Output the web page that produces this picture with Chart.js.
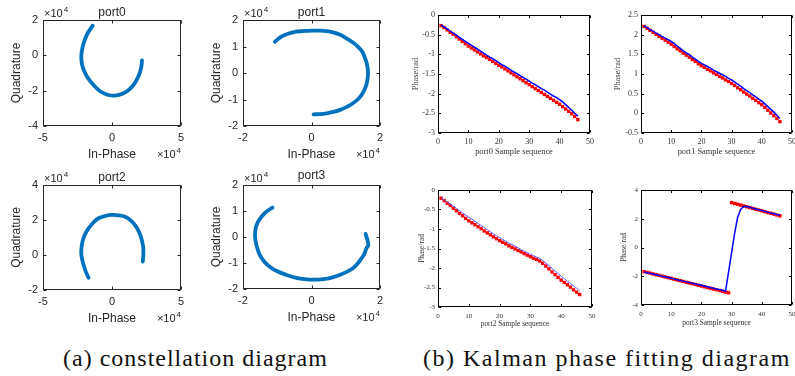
<!DOCTYPE html>
<html>
<head>
<meta charset="utf-8">
<script src="https://cdn.jsdelivr.net/npm/chart.js@4.4.1/dist/chart.umd.min.js"></script>
<style>
html,body{margin:0;padding:0;background:#fff;}
#fig{position:relative;width:795px;height:376px;overflow:hidden;background:#fff;}
#fig canvas{position:absolute;}
.cap{position:absolute;top:344px;font-family:'Liberation Serif','DejaVu Serif',serif;font-size:24px;line-height:28px;color:#111;white-space:nowrap;}
</style>
</head>
<body>
<div id="fig">
  <canvas id="c0"></canvas>
  <canvas id="c1"></canvas>
  <canvas id="c2"></canvas>
  <canvas id="c3"></canvas>
  <canvas id="f0"></canvas>
  <canvas id="f1"></canvas>
  <canvas id="f2"></canvas>
  <canvas id="f3"></canvas>
  <div class="cap" id="capA" style="left:63px;letter-spacing:1.0px;">(a) constellation diagram</div>
  <div class="cap" id="capB" style="left:423px;letter-spacing:1.5px;">(b) Kalman phase fitting diagram</div>
</div>
<script>
// ---------------- DATA (constellation values in units of 10^4) ----------------
const port0InPhase    = [-1.40,-1.58,-1.76,-1.92,-2.05,-2.15,-2.21,-2.22,-2.17,-2.06,-1.90,-1.70,-1.45,-1.17,-0.86,-0.52,-0.18,0.17,0.50,0.83,1.13,1.42,1.67,1.88,2.04,2.14,2.17];
const port0Quadrature = [1.68,1.48,1.25,0.98,0.70,0.40,0.10,-0.22,-0.52,-0.80,-1.08,-1.33,-1.58,-1.82,-2.03,-2.17,-2.26,-2.28,-2.24,-2.15,-2.01,-1.80,-1.55,-1.25,-0.92,-0.58,-0.28];

const port1InPhase    = [-1.07,-0.88,-0.64,-0.45,-0.25,0.00,0.24,0.45,0.63,0.84,1.02,1.20,1.36,1.48,1.55,1.62,1.65,1.64,1.60,1.54,1.46,1.35,1.21,1.03,0.82,0.63,0.44,0.25,0.06];
const port1Quadrature = [1.18,1.37,1.50,1.56,1.58,1.60,1.60,1.58,1.53,1.44,1.31,1.16,0.99,0.81,0.61,0.33,0.05,-0.20,-0.45,-0.65,-0.83,-1.00,-1.14,-1.28,-1.40,-1.47,-1.52,-1.55,-1.56];

const port2InPhase    = [-1.70,-1.90,-2.06,-2.17,-2.23,-2.20,-2.11,-1.94,-1.70,-1.38,-0.98,-0.50,-0.01,0.48,0.95,1.35,1.67,1.92,2.09,2.20,2.27,2.27,2.23];
const port2Quadrature = [-1.30,-0.95,-0.57,-0.22,0.10,0.48,0.86,1.21,1.52,1.83,2.10,2.23,2.29,2.27,2.19,1.98,1.71,1.38,1.05,0.72,0.38,0.00,-0.38];

const port3InPhase    = [-1.14,-1.32,-1.46,-1.57,-1.63,-1.65,-1.63,-1.58,-1.51,-1.39,-1.22,-1.00,-0.73,-0.47,-0.20,0.07,0.34,0.59,0.82,1.03,1.21,1.35,1.46,1.55,1.60,1.66,1.58];
const port3Quadrature = [1.13,0.97,0.78,0.56,0.33,0.08,-0.18,-0.44,-0.69,-0.93,-1.14,-1.32,-1.46,-1.56,-1.62,-1.64,-1.62,-1.56,-1.46,-1.34,-1.20,-1.02,-0.82,-0.63,-0.44,-0.30,0.12];

// ---------------- DATA (phase, rad) ----------------
const sampleSeq = [1,2,3,4,5,6,7,8,9,10,11,12,13,14,15,16,17,18,19,20,21,22,23,24,25,26,27,28,29,30,31,32,33,34,35,36,37,38,39,40,41,42,43,44,45,46];

const port0Measured = [-0.27,-0.32,-0.38,-0.44,-0.49,-0.55,-0.61,-0.67,-0.73,-0.79,-0.84,-0.89,-0.94,-0.99,-1.04,-1.08,-1.13,-1.18,-1.23,-1.28,-1.32,-1.37,-1.42,-1.47,-1.52,-1.57,-1.62,-1.67,-1.72,-1.77,-1.82,-1.87,-1.92,-1.97,-2.02,-2.07,-2.12,-2.17,-2.22,-2.27,-2.33,-2.39,-2.45,-2.51,-2.58,-2.66];
const port0Kalman   = [-0.25,-0.30,-0.35,-0.41,-0.46,-0.51,-0.57,-0.62,-0.67,-0.72,-0.77,-0.82,-0.87,-0.92,-0.97,-1.02,-1.07,-1.11,-1.16,-1.21,-1.26,-1.30,-1.35,-1.40,-1.45,-1.49,-1.54,-1.59,-1.63,-1.68,-1.73,-1.77,-1.82,-1.87,-1.91,-1.96,-2.01,-2.06,-2.10,-2.15,-2.21,-2.28,-2.35,-2.42,-2.50,-2.57];

const port1Measured = [2.21,2.16,2.11,2.06,2.01,1.96,1.91,1.86,1.81,1.76,1.70,1.64,1.59,1.53,1.48,1.43,1.37,1.32,1.26,1.21,1.17,1.12,1.08,1.03,0.99,0.94,0.90,0.85,0.81,0.76,0.71,0.65,0.60,0.54,0.49,0.44,0.38,0.33,0.27,0.22,0.15,0.08,0.01,-0.06,-0.13,-0.21];
const port1Kalman   = [2.22,2.18,2.13,2.09,2.04,2.00,1.95,1.91,1.87,1.83,1.77,1.71,1.65,1.59,1.54,1.49,1.43,1.38,1.32,1.27,1.23,1.19,1.15,1.10,1.06,1.02,0.98,0.94,0.89,0.85,0.80,0.74,0.69,0.63,0.58,0.53,0.47,0.42,0.36,0.31,0.24,0.17,0.10,0.03,-0.05,-0.13];

const port2Measured = [-0.21,-0.27,-0.34,-0.40,-0.47,-0.53,-0.60,-0.66,-0.73,-0.79,-0.84,-0.89,-0.94,-0.99,-1.05,-1.10,-1.15,-1.20,-1.25,-1.30,-1.34,-1.38,-1.43,-1.47,-1.51,-1.55,-1.59,-1.63,-1.67,-1.71,-1.75,-1.78,-1.82,-1.88,-1.95,-2.02,-2.10,-2.17,-2.24,-2.31,-2.37,-2.43,-2.49,-2.56,-2.62,-2.68];
const port2Kalman   = [-0.20,-0.25,-0.31,-0.36,-0.42,-0.47,-0.53,-0.59,-0.64,-0.70,-0.75,-0.80,-0.86,-0.91,-0.96,-1.02,-1.07,-1.12,-1.17,-1.22,-1.27,-1.31,-1.36,-1.40,-1.44,-1.48,-1.53,-1.57,-1.61,-1.65,-1.68,-1.72,-1.75,-1.81,-1.87,-1.94,-2.01,-2.08,-2.14,-2.21,-2.27,-2.34,-2.40,-2.46,-2.52,-2.59];

const port3Measured = [-1.68,-1.73,-1.78,-1.84,-1.89,-1.94,-1.99,-2.05,-2.10,-2.15,-2.21,-2.26,-2.31,-2.36,-2.42,-2.47,-2.52,-2.57,-2.63,-2.68,-2.73,-2.78,-2.84,-2.89,-2.94,-2.99,-3.05,-3.10,-3.15,3.12,3.06,3.01,2.95,2.89,2.84,2.78,2.72,2.66,2.61,2.55,2.49,2.43,2.38,2.32,2.26,2.20];
const port3Kalman   = [-1.70,-1.75,-1.80,-1.85,-1.90,-1.95,-2.00,-2.04,-2.09,-2.14,-2.19,-2.24,-2.29,-2.34,-2.39,-2.44,-2.48,-2.53,-2.58,-2.63,-2.68,-2.73,-2.78,-2.83,-2.88,-2.93,-2.98,-3.03,-1.69,-0.35,0.99,2.10,2.65,2.86,2.85,2.79,2.73,2.68,2.62,2.57,2.51,2.46,2.40,2.35,2.29,2.24];

// ---------------- TICK / LABEL TEXT ----------------
const portNames = ['port0','port1','port2','port3'];
const iqXLabel = 'In-Phase';
const iqYLabel = 'Quadrature';
const phaseYLabel = 'Phase/rad';
const phaseXLabelSuffix = ' Sample sequence';

// ---------------- helpers ----------------
const SANS = "'Liberation Sans', Arial, Helvetica, sans-serif";
const SERIF = "'Liberation Serif', 'Times New Roman', serif";

const framePlugin = {
  id: 'frame',
  afterDatasetsDraw(chart, args, o) {
    if (!o || !o.on) return;
    const {ctx, chartArea: a, scales} = chart;
    const xs = scales.x, ys = scales.y;
    ctx.save();
    ctx.strokeStyle = o.color;
    ctx.lineWidth = 1;
    const L = Math.round(a.left) + 0.5, R = Math.round(a.right) - 0.5;
    const T = Math.round(a.top) + 0.5, B = Math.round(a.bottom) - 0.5;
    ctx.strokeRect(L, T, R - L, B - T);
    const len = o.tick;
    ctx.beginPath();
    xs.ticks.forEach(t => {
      const p = Math.round(xs.getPixelForValue(t.value)) + 0.5;
      ctx.moveTo(p, B); ctx.lineTo(p, B - len);
      ctx.moveTo(p, T); ctx.lineTo(p, T + len);
    });
    ys.ticks.forEach(t => {
      const p = Math.round(ys.getPixelForValue(t.value)) + 0.5;
      ctx.moveTo(L, p); ctx.lineTo(L + len, p);
      ctx.moveTo(R, p); ctx.lineTo(R - len, p);
    });
    ctx.stroke();
    ctx.fillStyle = o.color;
    if (o.title) {
      ctx.font = '12px ' + SANS;
      ctx.textAlign = 'center'; ctx.textBaseline = 'middle';
      ctx.fillText(o.title, (a.left + a.right) / 2, a.top - o.titleOff);
    }
    if (o.exp) {
      const drawExp = (x, y, alignRight) => {
        ctx.font = '11px ' + SANS;
        const w1 = ctx.measureText('\u00d710').width;
        ctx.font = '8px ' + SANS;
        const w2 = ctx.measureText('4').width;
        const x0 = alignRight ? x - w1 - w2 - 1 : x;
        ctx.textAlign = 'left'; ctx.textBaseline = 'alphabetic';
        ctx.font = '11px ' + SANS; ctx.fillText('\u00d710', x0, y);
        ctx.font = '8px ' + SANS; ctx.fillText('4', x0 + w1 + 1, y - 5);
      };
      drawExp(a.left + 1, a.top - 3, false);
      drawExp(a.right, a.bottom + 32, true);
    }
    ctx.restore();
  }
};
Chart.register(framePlugin);

function place(id, plot, pad) {
  const c = document.getElementById(id);
  const W = plot.r - plot.l + pad.l + pad.r;
  const H = plot.b - plot.t + pad.t + pad.b;
  c.width = W; c.height = H;
  c.style.left = (plot.l - pad.l) + 'px';
  c.style.top = (plot.t - pad.t) + 'px';
  c.style.width = W + 'px'; c.style.height = H + 'px';
  return c;
}

function baseOptions(pad, xs, ys, frame) {
  return {
    responsive: false, animation: false, devicePixelRatio: 1,
    layout: {padding: {top: pad.t, right: pad.r, left: 0, bottom: 0}},
    plugins: {legend: {display: false}, tooltip: {enabled: false}, frame: frame},
    scales: {x: xs, y: ys}
  };
}

function fmtTick(v) { return String(Math.round(v * 100) / 100); }

function axis(min, max, step, title, tf, kf, color, tickPad, fitSize, horizontal) {
  return {
    type: 'linear', min, max,
    ticks: {stepSize: step, font: kf, color, padding: tickPad, maxRotation: 0, autoSkip: false, includeBounds: true, callback: fmtTick},
    grid: {display: false, drawTicks: false},
    border: {display: false},
    title: {display: true, text: title, font: tf, color, padding: {top: 0, bottom: 0}},
    afterFit(s) { if (horizontal) s.height = fitSize; else s.width = fitSize; }
  };
}

function pts(xa, ya) { return xa.map((v, i) => ({x: v, y: ya[i]})); }

function constellation(id, plot, I, Q, xr, yr, title, titleOff) {
  const pad = {l: 34, r: 15, t: 20, b: 36};
  const c = place(id, plot, pad);
  const col = '#262626';
  const tf = {family: SANS, size: 12};
  const kf = {family: SANS, size: 11};
  new Chart(c, {
    type: 'scatter',
    data: {datasets: [{
      data: pts(I, Q), showLine: true, tension: 0.35,
      borderColor: '#0072BD', borderWidth: 3.8, borderCapStyle: 'round', borderJoinStyle: 'round',
      pointRadius: 1.2, pointBackgroundColor: '#0072BD', pointBorderWidth: 0
    }]},
    options: baseOptions(pad,
      axis(xr[0], xr[1], xr[2], iqXLabel, tf, kf, col, 5.5, pad.b, true),
      axis(yr[0], yr[1], yr[2], iqYLabel, tf, kf, col, 5, pad.l, false),
      {on: true, color: col, tick: 3, title: title, titleOff: titleOff, exp: true})
  });
}

function phase(id, plot, pad, meas, kal, yr, name, fs, ks, tickPadX, blueW, blueCol) {
  const c = place(id, plot, pad);
  const col = '#333';
  const tf = {family: SERIF, size: fs};
  const kf = {family: SERIF, size: ks};
  new Chart(c, {
    type: 'scatter',
    data: {datasets: [
      {data: pts(sampleSeq, kal), showLine: true, tension: 0, borderColor: blueCol, borderWidth: blueW, pointRadius: 0, order: 0},
      {data: pts(sampleSeq, meas), showLine: false, pointStyle: 'rect', pointRadius: 2.4, pointBackgroundColor: '#ff0000', pointBorderWidth: 0, order: 1}
    ]},
    options: baseOptions(pad,
      axis(0, 50, 10, name + phaseXLabelSuffix, tf, kf, col, tickPadX, pad.b, true),
      axis(yr[0], yr[1], yr[2], phaseYLabel, tf, kf, col, 3, pad.l, false),
      {on: true, color: '#000', tick: 2.5, title: null, exp: false})
  });
}

constellation('c0', {l: 43, t: 20, r: 181, b: 126}, port0InPhase, port0Quadrature, [-5, 5, 5], [-4, 2, 2], portNames[0], 7.5);
constellation('c1', {l: 243, t: 20, r: 380, b: 126}, port1InPhase, port1Quadrature, [-2, 2, 2], [-2, 2, 1], portNames[1], 7.5);
constellation('c2', {l: 43, t: 185, r: 181, b: 290}, port2InPhase, port2Quadrature, [-5, 5, 5], [-2, 4, 2], portNames[2], 7.5);
constellation('c3', {l: 243, t: 185, r: 380, b: 289}, port3InPhase, port3Quadrature, [-2, 2, 2], [-2, 2, 1], portNames[3], 9);

phase('f0', {l: 438, t: 15, r: 590, b: 133}, {l: 27, r: 15, t: 10, b: 24}, port0Measured, port0Kalman, [-3, 0, 0.5], portNames[0], 8.4, 8, 4, 1.5, '#0000ff');
phase('f1', {l: 641, t: 15, r: 792, b: 133}, {l: 28, r: 15, t: 10, b: 24}, port1Measured, port1Kalman, [-0.5, 2.5, 0.5], portNames[1], 8.4, 8, 4, 1.5, '#0000ff');
phase('f2', {l: 438, t: 190, r: 592, b: 307}, {l: 20, r: 15, t: 10, b: 22}, port2Measured, port2Kalman, [-3, 0, 0.5], portNames[2], 7.4, 7, 4.5, 1, '#5a5aff');
phase('f3', {l: 641, t: 190, r: 792, b: 305}, {l: 21, r: 15, t: 10, b: 23}, port3Measured, port3Kalman, [-4, 4, 2], portNames[3], 7.4, 7, 4.8, 1.5, '#0000ff');
</script>
</body>
</html>
